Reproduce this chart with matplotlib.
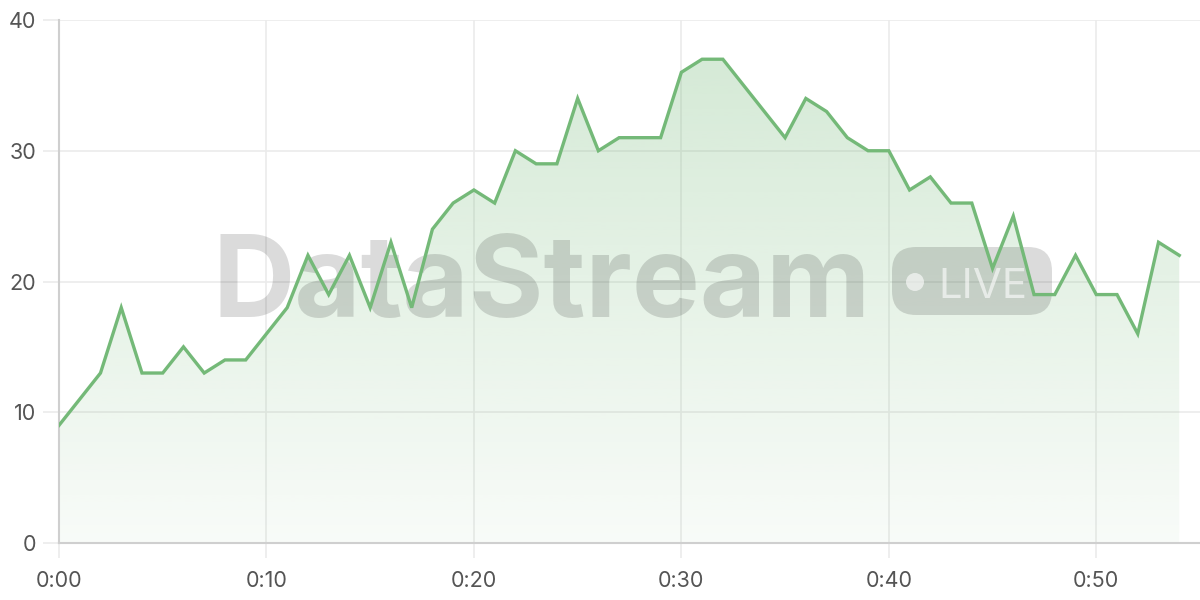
import matplotlib
matplotlib.use('Agg')
import matplotlib.pyplot as plt
import numpy as np
from matplotlib.colors import to_rgb
from matplotlib.patches import FancyBboxPatch, Circle
from matplotlib.transforms import IdentityTransform

minutes = list(range(55))
values = [9, 11, 13, 18, 13, 13, 15, 13, 14, 14,
          16, 18, 22, 19, 22, 18, 23, 18, 24, 26,
          27, 26, 30, 29, 29, 34, 30, 31, 31, 31,
          36, 37, 37, 35, 33, 31, 34, 33, 31, 30,
          30, 27, 28, 26, 26, 21, 25, 19, 19, 22,
          19, 19, 16, 23, 22]
x_ticks = [0, 10, 20, 30, 40, 50]
x_tick_labels = ['0:00', '0:10', '0:20', '0:30', '0:40', '0:50']
y_ticks = [0, 10, 20, 30, 40]
watermark = 'DataStream'
badge_text = 'LIVE'

line_color = '#74b978'
plt.rcParams['font.family'] = ['Inter', 'DejaVu Sans']

fig = plt.figure(figsize=(12, 6), dpi=100)
ax = fig.add_axes([59 / 1200, 57 / 600, 1141 / 1200, 523 / 600])

# gradient fill under the line
rgb = to_rgb(line_color)
n = 256
rgba = np.zeros((n, 1, 4))
rgba[..., 0], rgba[..., 1], rgba[..., 2] = rgb
rgba[..., 3] = np.linspace(0.05, 0.32, n).reshape(-1, 1)
poly = ax.fill_between(minutes, values, 0, facecolor='none', edgecolor='none')
im = ax.imshow(rgba, extent=[min(minutes), max(minutes), 0, 40], origin='lower',
               aspect='auto', zorder=1, interpolation='bilinear')
im.set_clip_path(poly.get_paths()[0], transform=ax.transData)

ax.plot(minutes, values, color=line_color, lw=2.4, zorder=4, solid_joinstyle='miter')

ax.set_xlim(0, 55)
ax.set_ylim(0, 40)
ax.set_xticks(x_ticks)
ax.set_xticklabels(x_tick_labels)
ax.set_yticks(y_ticks)
ax.grid(True, color='#ebebeb', lw=1.2, zorder=0)
ax.set_axisbelow(True)
for s in ['top', 'right']:
    ax.spines[s].set_visible(False)
for s in ['left', 'bottom']:
    ax.spines[s].set_color('#cfcfcf')
    ax.spines[s].set_linewidth(1.5)
ax.tick_params(axis='x', length=11, width=1.2, color='#ebebeb', pad=9,
               labelsize=15.5, labelcolor='#555555')
ax.tick_params(axis='y', length=11.5, width=1.2, color='#ebebeb', pad=5,
               labelsize=15.5, labelcolor='#555555')

# watermark
ident = IdentityTransform()
t = ax.text(212, 600 - 317, watermark, transform=ident, fontsize=85,
            fontweight='bold', color='black', alpha=0.14, ha='left',
            va='baseline', zorder=2.5)
fig.canvas.draw()
r = fig.canvas.get_renderer()
w = t.get_window_extent(r).width
t.set_fontsize(85 * 658 / w)

badge = FancyBboxPatch((892, 600 - 315), 160, 68,
                       boxstyle='round,pad=0,rounding_size=24',
                       transform=ident, facecolor='black', edgecolor='none',
                       alpha=0.14, zorder=2.5)
ax.add_artist(badge)
dot = Circle((915, 600 - 282), 9, transform=ident, facecolor='white',
             edgecolor='none', alpha=0.6, zorder=2.6)
ax.add_artist(dot)
lt = ax.text(938, 600 - 298, badge_text, transform=ident, fontsize=35,
             color='white', alpha=0.6, ha='left', va='baseline', zorder=2.6)
fig.canvas.draw()
w2 = lt.get_window_extent(r).width
lt.set_fontsize(35 * 89 / w2)

fig.savefig('out.png', dpi=100)
